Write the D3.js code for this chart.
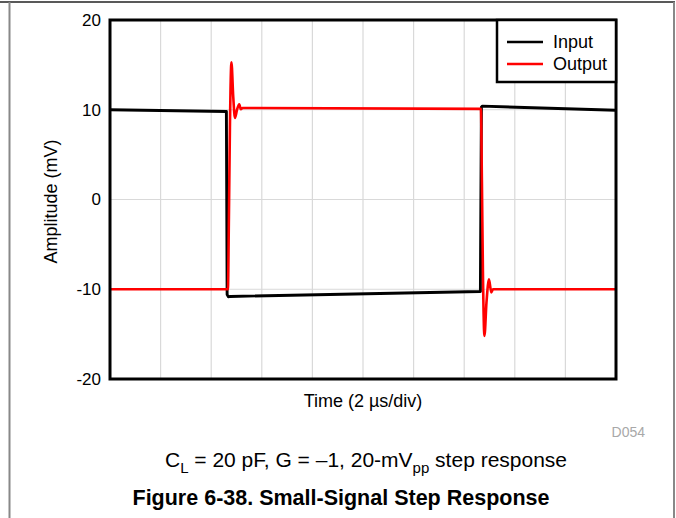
<!DOCTYPE html>
<html>
<head>
<meta charset="utf-8">
<script src="https://cdn.jsdelivr.net/npm/d3@7"></script>
<style>
  html, body { margin: 0; padding: 0; background: #fff; }
  svg { display: block; font-family: "Liberation Sans", Arial, sans-serif; }
</style>
</head>
<body>
<svg id="chart" width="676" height="518"></svg>
<script>
// ---- data (time in µs, amplitude in mV) ----
const inputTime  = [0, 4.60, 4.63, 4.68, 4.75, 14.64, 14.68, 14.72, 20];
const inputValue = [10.0, 9.8, -10.6, -10.85, -10.8, -10.25, 10.3, 10.4, 9.95];

const outputTime  = [0, 4.66, 4.70, 4.74, 4.80, 4.87, 4.94, 5.02, 5.11, 5.17, 5.24, 14.66, 14.70, 14.74, 14.80, 14.88, 14.98, 15.07, 15.14, 20];
const outputValue = [-10.0, -10.0, -2.0, 8.0, 15.3, 11.5, 9.1, 10.0, 10.6, 10.05, 10.2, 10.1, 2.0, -8.0, -15.2, -11.5, -8.9, -10.35, -10.0, -10.0];

const yTicks = [-20, -10, 0, 10, 20];
const yTickLabels = ["-20", "-10", "0", "10", "20"];
const xDivs = [0, 2, 4, 6, 8, 10, 12, 14, 16, 18, 20];
const legendLabels = ["Input", "Output"];
const seriesColors = ["#000000", "#ff0000"];

const svg = d3.select("#chart");
const L = 110, R = 616, T = 20, B = 379;

const x = d3.scaleLinear().domain([0, 20]).range([L, R]);
const y = d3.scaleLinear().domain([-20, 20]).range([B, T]);

// page frame
svg.append("line").attr("x1", 0).attr("x2", 675).attr("y1", 2).attr("y2", 2)
  .attr("stroke", "#222").attr("stroke-width", 1.5);
svg.append("line").attr("x1", 9.5).attr("x2", 9.5).attr("y1", 2).attr("y2", 518)
  .attr("stroke", "#888").attr("stroke-width", 2);
svg.append("line").attr("x1", 674).attr("x2", 674).attr("y1", 2).attr("y2", 518)
  .attr("stroke", "#888").attr("stroke-width", 2);

// grid
const g = svg.append("g");
g.selectAll(".vg").data(xDivs.slice(1, -1)).enter().append("line")
  .attr("x1", d => x(d)).attr("x2", d => x(d)).attr("y1", T).attr("y2", B)
  .attr("stroke", "#d9d9d9").attr("stroke-width", 1.2);
g.selectAll(".hg").data(yTicks.slice(1, -1)).enter().append("line")
  .attr("x1", L).attr("x2", R).attr("y1", d => y(d)).attr("y2", d => y(d))
  .attr("stroke", "#d9d9d9").attr("stroke-width", 1.2);

// y axis labels
const yAxis = d3.axisLeft(y).tickValues(yTicks).tickSize(0).tickPadding(9)
  .tickFormat((d, i) => yTickLabels[i]);
const ya = svg.append("g").attr("transform", `translate(${L},0)`).call(yAxis);
ya.select(".domain").remove();
ya.selectAll("text").attr("font-size", 17).attr("fill", "#000")
  .attr("font-family", "Liberation Sans, Arial, sans-serif");

// lines
const line = d3.line().x(d => x(d[0])).y(d => y(d[1]));
const inputData = inputTime.map((t, i) => [t, inputValue[i]]);
const outputData = outputTime.map((t, i) => [t, outputValue[i]]);

svg.append("clipPath").attr("id", "clip").append("rect")
  .attr("x", L).attr("y", T).attr("width", R - L).attr("height", B - T);

const plot = svg.append("g").attr("clip-path", "url(#clip)");
plot.append("path").datum(inputData).attr("d", line)
  .attr("fill", "none").attr("stroke", seriesColors[0]).attr("stroke-width", 2.9)
  .attr("stroke-linejoin", "round");
plot.append("path").datum(outputData).attr("d", d3.line().x(d => x(d[0])).y(d => y(d[1])).curve(d3.curveMonotoneX))
  .attr("fill", "none").attr("stroke", seriesColors[1]).attr("stroke-width", 2.6)
  .attr("stroke-linejoin", "round");

// plot border
svg.append("rect").attr("x", L).attr("y", T).attr("width", R - L).attr("height", B - T)
  .attr("fill", "none").attr("stroke", "#000").attr("stroke-width", 3);

// legend
const lg = svg.append("g");
lg.append("rect").attr("x", 497).attr("y", T).attr("width", R - 497).attr("height", 62)
  .attr("fill", "#fff").attr("stroke", "#000").attr("stroke-width", 2.5);
legendLabels.forEach((lab, i) => {
  const yy = 42 + i * 22;
  lg.append("line").attr("x1", 507).attr("x2", 543).attr("y1", yy).attr("y2", yy)
    .attr("stroke", seriesColors[i]).attr("stroke-width", 2.5);
  lg.append("text").attr("x", 553).attr("y", yy).attr("dy", "0.35em")
    .attr("font-size", 18).text(lab);
});

// axis titles
svg.append("text").attr("x", (L + R) / 2).attr("y", 407).attr("text-anchor", "middle")
  .attr("font-size", 18).text("Time (2 µs/div)");
svg.append("text").attr("transform", `translate(57,${(T + B) / 2 + 2}) rotate(-90)`)
  .attr("text-anchor", "middle").attr("font-size", 18).text("Amplitude (mV)");

// figure id
svg.append("text").attr("x", 645).attr("y", 437).attr("text-anchor", "end")
  .attr("font-size", 14).attr("fill", "#a8a8a8").text("D054");

// caption
const cap = svg.append("text").attr("x", 366).attr("y", 467).attr("text-anchor", "middle")
  .attr("font-size", 21);
cap.append("tspan").text("C");
cap.append("tspan").attr("font-size", 15).attr("dy", 6).text("L");
cap.append("tspan").attr("dy", -6).text(" = 20 pF, G = –1, 20-mV");
cap.append("tspan").attr("font-size", 15).attr("dy", 6).text("pp");
cap.append("tspan").attr("dy", -6).text(" step response");

svg.append("text").attr("x", 341).attr("y", 505).attr("text-anchor", "middle")
  .attr("font-size", 21.5).attr("font-weight", "bold").text("Figure 6-38. Small-Signal Step Response");
</script>
</body>
</html>
